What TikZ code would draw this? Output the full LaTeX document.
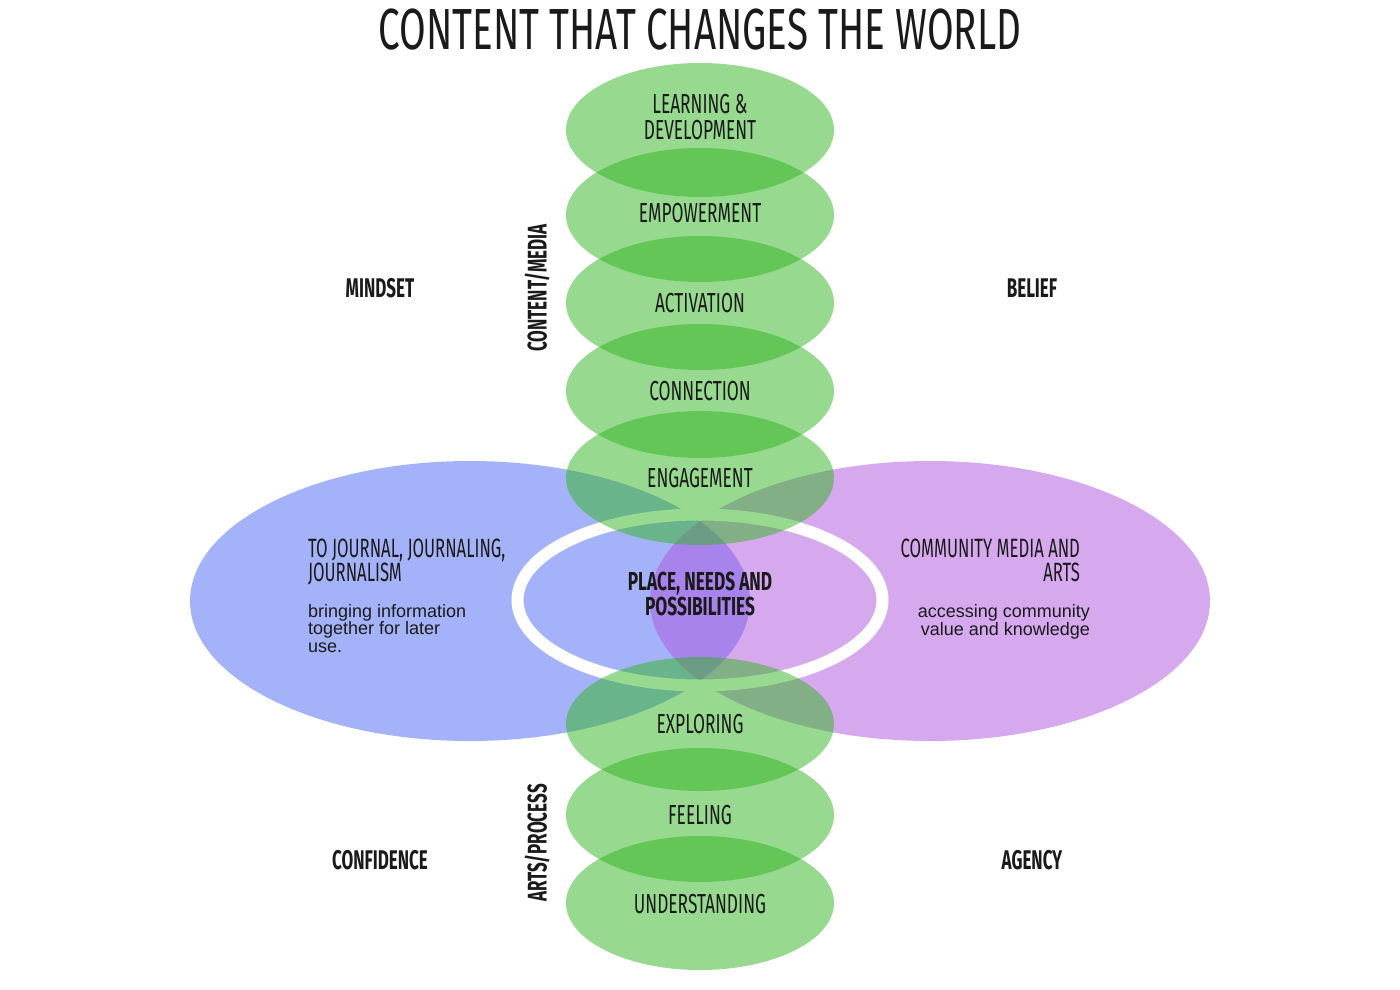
\documentclass[tikz,border=0pt]{standalone}
\usepackage{fontspec}
\setmainfont{Liberation Sans}
\newfontfamily\narrowfont[FakeStretch=0.63]{Fira Sans}
\newfontfamily\titlefont[FakeStretch=0.665]{Fira Sans}
\usetikzlibrary{shapes.geometric}
\definecolor{leafgreen}{RGB}{49,181,33}
\definecolor{skyblue}{RGB}{75,105,245}
\definecolor{lilac}{RGB}{175,85,225}
\definecolor{ink}{RGB}{26,26,26}

\begin{document}
\begin{tikzpicture}[x=1pt,y=-1pt,
  every node/.style={inner sep=0pt,outer sep=0pt,text=ink},
  pod/.style={ellipse,fill=leafgreen,fill opacity=0.5,minimum width=268pt,minimum height=134pt},
  side/.style={ellipse,fill opacity=0.5,minimum width=560pt,minimum height=280pt},
  ring/.style={ellipse,draw=white,line width=12pt,minimum width=365pt,minimum height=171pt},
  ttl/.style={anchor=base,font=\titlefont\fontsize{58}{58}\selectfont},
  lbl/.style={anchor=base,align=center,font=\narrowfont\fontsize{27.5}{26}\selectfont},
  hd/.style={anchor=base,font=\narrowfont\bfseries\fontsize{27}{27}\selectfont},
  sidetxt/.style={font=\narrowfont\fontsize{26.5}{24}\selectfont},
  subtxt/.style={font=\fontsize{18}{17.5}\selectfont}]
\fill[white] (0,0) rectangle (1400,990);
\node[side,fill=skyblue] (journal) at (470,601) {};
\node[side,fill=lilac] (community) at (930,601) {};
\node[ring] (place) at (700,600) {};
\foreach \y/\n in {130/learn,215/empower,303/activate,391/connect,478/engage,724/explore,815/feel,903/understand}
  \node[pod] (\n) at (700,\y) {};
\node[ttl] (title) at (700,50) {CONTENT THAT CHANGES THE WORLD};
\node[lbl] (t-learn) at (700,139.5) {LEARNING \&\\DEVELOPMENT};
\node[lbl] (t-empower) at (700,222.5) {EMPOWERMENT};
\node[lbl] (t-activate) at (700,312.5) {ACTIVATION};
\node[lbl] (t-connect) at (700,400.5) {CONNECTION};
\node[lbl] (t-engage) at (700,487.5) {ENGAGEMENT};
\node[lbl] (t-explore) at (700,733.5) {EXPLORING};
\node[lbl] (t-feel) at (700,824.5) {FEELING};
\node[lbl] (t-understand) at (700,913.5) {UNDERSTANDING};
\node[lbl,font=\titlefont\bfseries\fontsize{26}{25}\selectfont] (t-place) at (700,615) {PLACE, NEEDS AND\\POSSIBILITIES};
\node[hd] (mindset) at (380,297) {MINDSET};
\node[hd] (belief) at (1032,297) {BELIEF};
\node[hd] (confidence) at (380,869) {CONFIDENCE};
\node[hd] (agency) at (1032,869) {AGENCY};
\node[hd,anchor=center,rotate=90] (media) at (537,288) {CONTENT/MEDIA};
\node[hd,anchor=center,rotate=90] (process) at (537,843) {ARTS/PROCESS};
\node[sidetxt,anchor=base west,align=left] (t-journal) at (308,581) {TO JOURNAL, JOURNALING,\\JOURNALISM};
\node[subtxt,anchor=base west,align=left] (s-journal) at (308,652) {bringing information\\together for later\\use.};
\node[sidetxt,anchor=base east,align=right] (t-community) at (1080,581) {COMMUNITY MEDIA AND\\ARTS};
\node[subtxt,anchor=base east,align=right] (s-community) at (1090,635) {accessing community\\value and knowledge};
\end{tikzpicture}
\end{document}
